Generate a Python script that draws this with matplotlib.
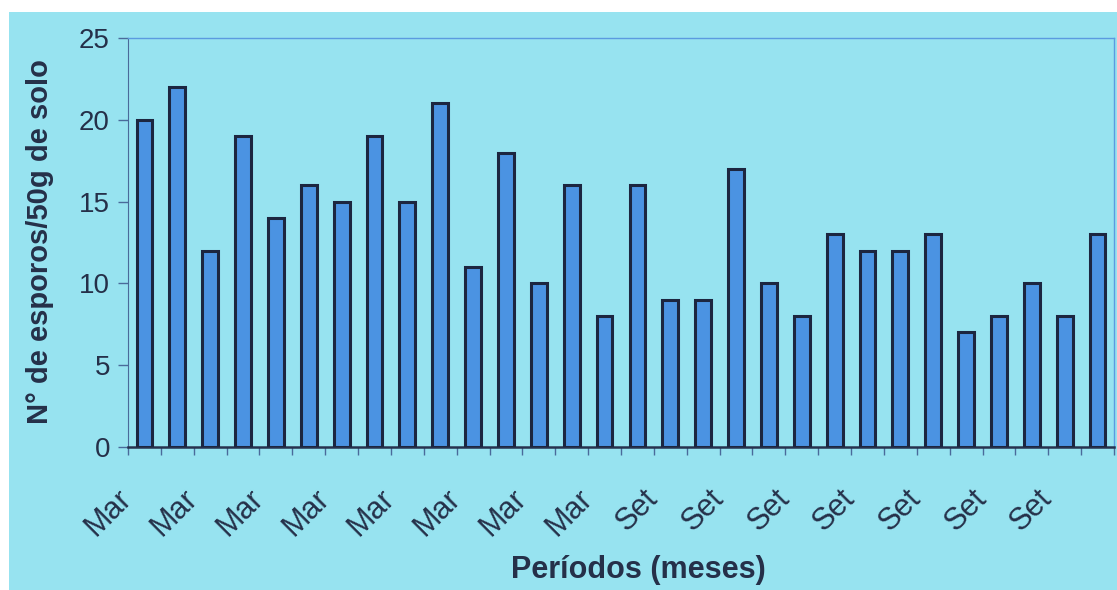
import numpy as np
import matplotlib.pyplot as plt
import matplotlib.transforms as mtransforms
from matplotlib.patches import Rectangle

# esporos por periodo (30 coletas)
valores = [20, 22, 12, 19, 14, 16, 15, 19, 15, 21,
           11, 18, 10, 16, 8, 16, 9, 9, 17, 10,
           8, 13, 12, 12, 13, 7, 8, 10, 8, 13]
meses = ['Mar'] * 8 + ['Set'] * 7
yticks = [0, 5, 10, 15, 20, 25]

bg = '#97e3f0'
txt = '#253049'

plt.rcParams['font.family'] = ['Liberation Sans', 'DejaVu Sans']

fig = plt.figure(figsize=(11.17, 5.9), dpi=100)
fig.patch.set_facecolor('white')
fig.patches.append(Rectangle((9 / 1117, 0), 1, 1 - 12 / 590, transform=fig.transFigure,
                             facecolor=bg, edgecolor='none', zorder=-10))

ax = fig.add_axes([128 / 1117, 1 - 447 / 590, (1114 - 128) / 1117, (447 - 38) / 590])
ax.set_facecolor(bg)

x = np.arange(len(valores))
ax.bar(x, valores, width=0.48, color='#4b93e2', edgecolor='#1c2640', linewidth=2.2, zorder=3)

ax.set_xlim(-0.5, len(valores) - 0.5)
ax.set_ylim(0, 25)
ax.set_yticks(yticks)
ax.set_yticklabels([str(v) for v in yticks], fontsize=20, color=txt)
ax.tick_params(axis='y', length=7, width=1, color='#4a6a9a', pad=6)

# ticks at category boundaries, labels every other boundary
ax.set_xticks(np.arange(len(valores) + 1) - 0.5, minor=True)
ax.set_xticks(np.arange(0, 2 * len(meses), 2) - 0.5)
ax.set_xticklabels(meses, rotation=45, ha='right', va='top', rotation_mode='anchor',
                   fontsize=22, color=txt)
ax.tick_params(axis='x', which='both', length=6, width=1, color='#4a6a9a', pad=20)
shift = mtransforms.ScaledTranslation(-8 / 72, 0, fig.dpi_scale_trans)
for lbl in ax.get_xticklabels():
    lbl.set_transform(lbl.get_transform() + shift)

for s in ['top', 'right']:
    ax.spines[s].set_color('#5b9be0')
    ax.spines[s].set_linewidth(1)
ax.spines['left'].set_color('#4a6a9a')
ax.spines['bottom'].set_color('#26324e')
ax.spines['bottom'].set_linewidth(1.8)

fig.text(638 / 1117, 1 - 570 / 590, 'Períodos (meses)', ha='center', va='center',
         fontsize=22, fontweight='bold', color=txt)
fig.text(40 / 1117, 1 - 242 / 590, 'N° de esporos/50g de solo', ha='center', va='center',
         rotation=90, fontsize=21, fontweight='bold', color=txt)

fig.savefig('out.png', dpi=100, facecolor=fig.get_facecolor())
